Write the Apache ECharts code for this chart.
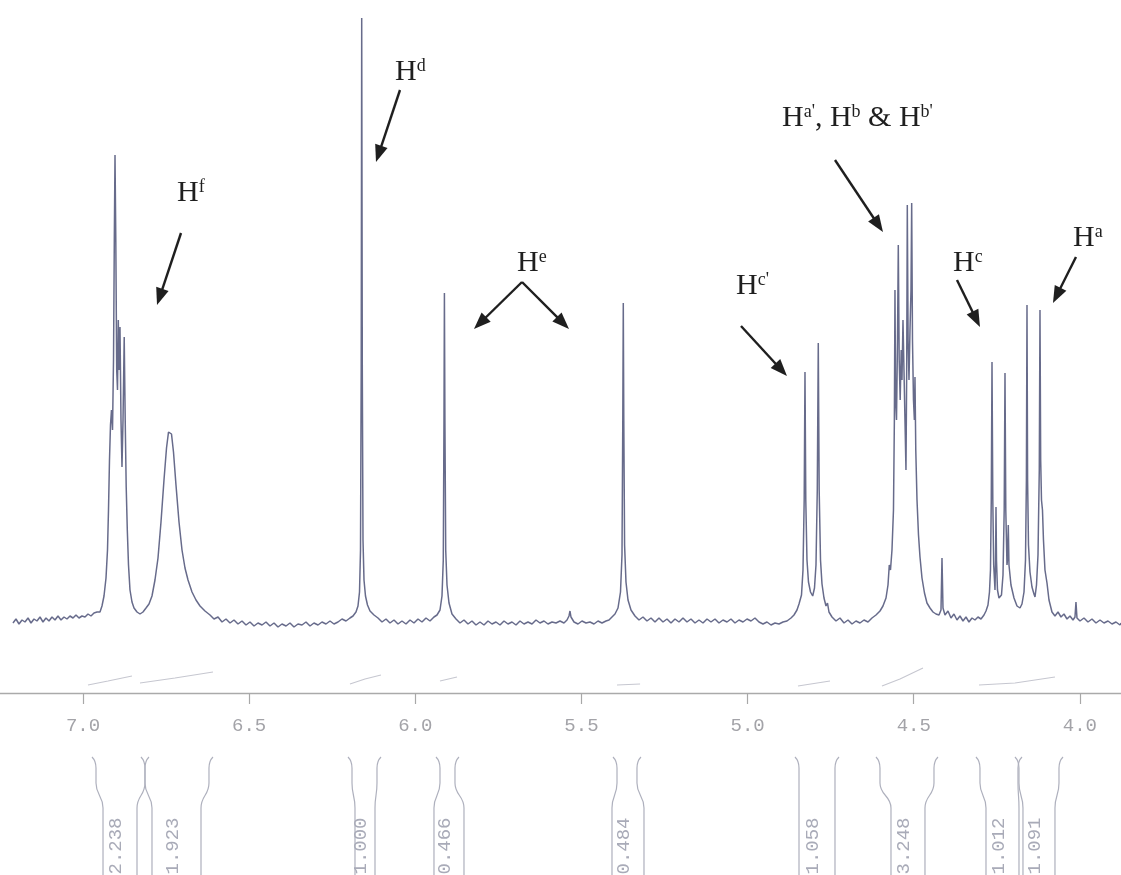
<!DOCTYPE html>
<html>
<head>
<meta charset="utf-8">
<title>1H NMR spectrum, 7.2 - 3.9 ppm</title>
<script src="https://cdn.jsdelivr.net/npm/echarts@6/dist/echarts.min.js"></script>
<style>
  html, body { margin: 0; padding: 0; background: #ffffff; }
  #chart { width: 1121px; height: 875px; }
</style>
</head>
<body>
<div id="chart"></div>
<script>
// Chemical-shift axis (ppm), labelled every 0.5 ppm
const tickValues = [4.0, 4.5, 5.0, 5.5, 6.0, 6.5, 7.0];

// Spectrum trace: [shift (ppm), intensity (arb. units, baseline = 0)]
const spectrum = [
  [7.2107,-3],[7.2017,1],[7.1926,-4],[7.1836,0],[7.1746,-2],[7.1655,2],[7.1565,-3],[7.1475,1],[7.1385,-1],[7.1294,3],
  [7.1204,-2],[7.1114,2],[7.1023,-1],[7.0933,3],[7.0843,0],[7.0753,4],[7.0662,0],[7.0572,3],[7.0482,1],[7.0392,4],
  [7.0301,2],[7.0211,5],[7.0121,2],[7.0030,4],[6.9940,3],[6.9850,6],[6.9760,4],[6.9669,7],[6.9579,8],[6.9489,8],
  // aromatic multiplet
  [6.9429,14],[6.9368,24],[6.9308,42],[6.9263,70],[6.9233,110],[6.9203,160],[6.9173,195],[6.9143,210],[6.9112,190],
  [6.9082,260],[6.9058,380],[6.9037,465],[6.9013,380],[6.8986,250],[6.8962,230],[6.8938,300],[6.8917,250],[6.8887,293],
  [6.8857,200],[6.8827,153],[6.8796,200],[6.8760,283],[6.8730,200],[6.8700,133],[6.8667,90],[6.8631,55],[6.8586,30],
  [6.8526,18],[6.8465,12],[6.8375,8],[6.8285,6],[6.8195,8],[6.8104,12],
  // broad signal
  [6.8014,16],[6.7924,24],[6.7834,40],[6.7743,62],[6.7653,98],[6.7563,140],[6.7487,172],[6.7427,188],[6.7382,190],
  [6.7337,186],[6.7277,168],[6.7202,135],[6.7111,98],[6.7021,70],[6.6931,52],[6.6840,40],[6.6720,28],[6.6600,20],
  [6.6479,14],[6.6329,9],[6.6178,5],
  [6.6058,1],[6.5937,3],[6.5817,-2],[6.5697,1],[6.5576,-3],[6.5456,0],[6.5336,-4],[6.5215,-1],[6.5095,-5],[6.4975,-2],
  [6.4854,-6],[6.4734,-3],[6.4613,-5],[6.4493,-2],[6.4373,-6],[6.4252,-3],[6.4132,-7],[6.4012,-4],[6.3891,-6],[6.3771,-3],
  [6.3651,-7],[6.3530,-4],[6.3410,-5],[6.3290,-2],[6.3169,-6],[6.3049,-3],[6.2928,-5],[6.2808,-2],[6.2688,-4],[6.2567,-1],
  [6.2447,-4],[6.2327,-2],[6.2206,1],[6.2086,-1],[6.1966,2],[6.1875,4],
  // Hd singlet
  [6.1785,8],[6.1725,14],[6.1679,28],[6.1649,70],[6.1628,250],[6.1613,602],[6.1595,250],[6.1574,80],[6.1544,40],
  [6.1499,24],[6.1439,15],[6.1363,9],[6.1243,5],[6.1123,2],
  [6.1002,-2],[6.0882,1],[6.0762,-3],[6.0641,0],[6.0521,-4],[6.0401,-1],[6.0280,-4],[6.0160,0],[6.0039,-3],[5.9919,1],
  [5.9799,-2],[5.9678,2],[5.9558,-1],[5.9438,3],[5.9347,5],
  // He, first line
  [5.9257,10],[5.9197,24],[5.9158,60],[5.9137,200],[5.9124,327],[5.9109,200],[5.9085,70],[5.9046,35],[5.8986,17],
  [5.8896,6],[5.8775,1],
  [5.8655,-3],[5.8535,0],[5.8414,-4],[5.8294,-1],[5.8174,-5],[5.8053,-2],[5.7933,-5],[5.7812,-1],[5.7692,-4],[5.7572,-2],
  [5.7451,-5],[5.7331,-1],[5.7211,-4],[5.7090,-2],[5.6970,-5],[5.6850,-1],[5.6729,-4],[5.6609,-2],[5.6488,-4],[5.6368,0],
  [5.6248,-3],[5.6127,-1],[5.6007,-4],[5.5887,-2],[5.5766,-3],[5.5646,-1],[5.5526,-3],[5.5435,0],[5.5375,4],[5.5345,9],
  [5.5315,3],[5.5224,-2],[5.5104,-4],[5.4984,-1],[5.4863,-3],[5.4743,-2],[5.4623,-4],[5.4502,-1],[5.4382,-3],[5.4261,-1],
  [5.4171,0],[5.4081,3],[5.3991,6],
  // He, second line
  [5.3900,12],[5.3825,28],[5.3780,65],[5.3756,200],[5.3741,317],[5.3726,200],[5.3702,75],[5.3660,38],[5.3599,20],
  [5.3509,10],[5.3389,4],
  [5.3268,0],[5.3148,3],[5.3028,-1],[5.2907,2],[5.2787,-2],[5.2667,2],[5.2546,-2],[5.2426,1],[5.2305,-3],[5.2185,1],
  [5.2065,-2],[5.1944,2],[5.1824,-2],[5.1704,1],[5.1583,-3],[5.1463,0],[5.1342,-3],[5.1222,1],[5.1102,-2],[5.0981,1],
  [5.0861,-3],[5.0741,0],[5.0620,-2],[5.0500,1],[5.0380,-3],[5.0259,0],[5.0139,-2],[5.0018,1],[4.9898,-1],[4.9778,2],
  [4.9657,-2],[4.9537,-4],[4.9417,-2],[4.9296,-5],[4.9176,-3],[4.9056,-4],[4.8935,-2],[4.8815,-1],[4.8694,2],[4.8604,5],
  [4.8514,10],[4.8453,16],
  // Hc' doublet
  [4.8378,25],[4.8333,50],[4.8297,120],[4.8273,248],[4.8249,120],[4.8213,60],[4.8168,38],[4.8107,28],[4.8041,24],
  [4.7987,32],[4.7942,55],[4.7903,130],[4.7873,277],[4.7846,130],[4.7806,60],[4.7761,36],[4.7701,22],[4.7641,14],
  [4.7596,17],[4.7551,8],[4.7460,3],
  [4.7340,-1],[4.7220,2],[4.7099,-3],[4.6979,0],[4.6858,-4],[4.6738,-1],[4.6618,-3],[4.6497,0],[4.6377,-2],[4.6257,2],
  [4.6136,5],[4.6016,9],[4.5926,14],[4.5835,22],[4.5775,35],[4.5736,55],[4.5700,50],[4.5655,70],[4.5610,110],
  // Ha', Hb, Hb' multiplet
  [4.5583,200],[4.5565,330],[4.5546,220],[4.5519,200],[4.5489,280],[4.5465,375],[4.5438,260],[4.5408,220],[4.5378,270],
  [4.5354,240],[4.5324,300],[4.5294,250],[4.5264,200],[4.5234,150],[4.5212,250],[4.5194,415],[4.5170,280],[4.5143,240],
  [4.5113,290],[4.5083,330],[4.5062,417],[4.5038,280],[4.5008,220],[4.4981,200],[4.4963,243],[4.4939,170],[4.4902,120],
  [4.4857,85],[4.4812,63],[4.4752,42],[4.4677,27],[4.4602,17],[4.4511,12],[4.4421,8],[4.4331,6],[4.4240,5],[4.4180,10],
  [4.4150,62],[4.4120,12],[4.4060,5],
  [4.3970,9],[4.3879,2],[4.3789,6],[4.3699,0],[4.3608,4],[4.3518,-1],[4.3428,3],[4.3338,-2],[4.3247,2],[4.3157,0],
  [4.3067,3],[4.2976,1],[4.2886,5],[4.2826,9],[4.2766,15],[4.2721,28],[4.2691,50],
  // Hc doublet
  [4.2667,120],[4.2645,258],[4.2621,120],[4.2594,55],[4.2555,30],[4.2537,60],[4.2525,113],[4.2510,60],[4.2480,30],
  [4.2435,22],[4.2405,20],[4.2360,25],[4.2314,45],[4.2278,110],[4.2254,247],[4.2230,110],[4.2194,55],[4.2179,60],
  [4.2155,95],[4.2134,55],[4.2074,35],[4.1983,22],[4.1893,14],[4.1803,12],[4.1743,16],[4.1682,28],
  // Ha doublet
  [4.1637,60],[4.1610,140],[4.1592,315],[4.1574,140],[4.1547,75],[4.1502,48],[4.1442,33],[4.1382,26],[4.1351,23],
  [4.1306,35],[4.1261,65],[4.1222,150],[4.1201,310],[4.1180,160],[4.1156,120],[4.1126,110],[4.1096,80],[4.1051,50],
  [4.0990,37],[4.0930,20],[4.0840,8],[4.0750,4],
  [4.0659,8],[4.0569,3],[4.0479,6],[4.0388,1],[4.0298,4],[4.0208,0],[4.0148,3],[4.0118,18],[4.0088,2],[3.9997,-1],
  [3.9877,2],[3.9757,-2],[3.9636,1],[3.9516,-3],[3.9395,0],[3.9275,-3],[3.9155,-1],[3.9034,-4],[3.8914,-2],[3.8794,-5],
  [3.8763,-3]
];

// Integrals: printed values and the shift ranges of their brackets
const integralValues = [2.238, 1.923, 1.000, 0.466, 0.484, 1.058, 3.248, 1.012, 1.091];
// [top-left, top-right, stem-left, stem-right] in ppm
const integralRegions = [
  [6.9609, 6.8135, 6.9398, 6.8375],
  [6.8135, 6.6209, 6.7924, 6.6449],
  [6.1905, 6.1153, 6.1815, 6.1213],
  [5.9257, 5.8806, 5.9438, 5.8535],
  [5.3930, 5.3329, 5.4081, 5.3118],
  [4.8453, 4.7370, 4.8453, 4.7370],
  [4.6016, 4.4391, 4.5685, 4.4662],
  [4.3007, 4.1863, 4.2826, 4.1833],
  [4.1833, 4.0629, 4.1713, 4.0750]
];
// Running-integral steps drawn just above the shift axis: [ppm, level]
const integralTraces = [
  [[6.9850,-65],[6.9248,-61],[6.8526,-56]],
  [[6.8285,-63],[6.7232,-58],[6.6088,-52]],
  [[6.1966,-64],[6.1514,-59],[6.1033,-55]],
  [[5.9257,-61],[5.8745,-57]],
  [[5.3930,-65],[5.3236,-64]],
  [[4.8484,-66],[4.7520,-61]],
  [[4.5956,-66],[4.5414,-59],[4.4722,-48]],
  [[4.3037,-65],[4.1954,-63],[4.0750,-57]]
];

// Proton assignments: label text, label anchor [ppm, level] (left edge, text middle)
const annotationLabels = [
  '{b|H}{s|f}',
  '{b|H}{s|d}',
  '{b|H}{s|e}',
  "{b|H}{s|c'}",
  "{b|H}{s|a'}{b|, H}{s|b}{b| & H}{s|b'}",
  '{b|H}{s|c}',
  '{b|H}{s|a}'
];
const annotationAnchors = [
  [6.7172, 427],
  [6.0611, 548],
  [5.6940, 357],
  [5.0349, 334],
  [4.8965, 502],
  [4.3819, 357],
  [4.0208, 382]
];
// Pointer arrows: [from ppm, from level, to ppm, to level]
const arrows = [
  [6.7051, 387, 6.7773, 315],
  [6.0461, 530, 6.1183, 458],
  [5.6789, 338, 5.8234, 291],
  [5.6789, 338, 5.5375, 291],
  [5.0199, 294, 4.8815, 244],
  [4.7370, 460, 4.5926, 388],
  [4.3699, 340, 4.3007, 293],
  [4.0118, 363, 4.0810, 317]
];

const PPM_MIN = 3.8763, PPM_MAX = 7.2498;
const MONO = "'Liberation Mono', 'DejaVu Sans Mono', monospace";
const SERIF = "'Liberation Serif', 'DejaVu Serif', serif";
const INK = '#1f1f1f';

const chart = echarts.init(document.getElementById('chart'), null, { renderer: 'canvas' });

function bracketItem(params, api) {
  const tl = api.value(0), tr = api.value(1), nl = api.value(2), nr = api.value(3);
  const val = api.value(4);
  const P = (x, y) => api.coord([x, y]);
  const yTop = 6, yB0 = 28, yB1 = 53, yBot = 130;
  function side(xt, xn, out) {
    const a = P(xt, yTop), b = P(xt, yB0), c = P(xn, yB1), d = P(xn, yBot);
    const m = (b[1] + c[1]) / 2;
    return 'M' + (a[0] + out * 4) + ' ' + (a[1] - 4) +
      ' Q' + a[0] + ' ' + a[1] + ' ' + a[0] + ' ' + (a[1] + 7) +
      ' L' + b[0] + ' ' + b[1] +
      ' C' + b[0] + ' ' + m + ' ' + c[0] + ' ' + m + ' ' + c[0] + ' ' + c[1] +
      ' L' + d[0] + ' ' + d[1];
  }
  const lineStyle = { stroke: '#aeb0bd', lineWidth: 1.2, fill: null };
  const cx = (P(nl, 0)[0] + P(nr, 0)[0]) / 2 - 4;
  const cy = P(nl, 91)[1];
  return {
    type: 'group',
    children: [
      { type: 'path', shape: { pathData: side(tl, nl, -1) }, style: lineStyle },
      { type: 'path', shape: { pathData: side(tr, nr, 1) }, style: lineStyle },
      {
        type: 'text', x: cx, y: cy, rotation: Math.PI / 2,
        style: {
          text: val.toFixed(3), fill: '#a9abb8',
          font: '19px ' + MONO, align: 'center', verticalAlign: 'middle'
        }
      }
    ]
  };
}

function arrowItem(params, api) {
  const p1 = api.coord([api.value(0), api.value(1)]);
  const p2 = api.coord([api.value(2), api.value(3)]);
  const dx = p2[0] - p1[0], dy = p2[1] - p1[1];
  const len = Math.sqrt(dx * dx + dy * dy);
  const ux = dx / len, uy = dy / len;
  const headL = 17, headW = 6.5;
  const bx = p2[0] - ux * headL, by = p2[1] - uy * headL;
  return {
    type: 'group',
    children: [
      { type: 'line', shape: { x1: p1[0], y1: p1[1], x2: bx + ux * 2, y2: by + uy * 2 },
        style: { stroke: INK, lineWidth: 2.4 } },
      { type: 'polygon',
        shape: { points: [[p2[0], p2[1]], [bx - uy * headW, by + ux * headW], [bx + uy * headW, by - ux * headW]] },
        style: { fill: INK } }
    ]
  };
}

function labelItem(params, api) {
  const p = api.coord([api.value(0), api.value(1)]);
  return {
    type: 'text', x: p[0], y: p[1],
    style: {
      text: annotationLabels[params.dataIndex],
      align: 'left', verticalAlign: 'middle',
      rich: {
        b: { fontFamily: SERIF, fontSize: 30, lineHeight: 30, fill: INK },
        s: { fontFamily: SERIF, fontSize: 18, lineHeight: 18, verticalAlign: 'top', fill: INK }
      }
    }
  };
}

const traceSeries = integralTraces.map(tr => ({
  type: 'line', xAxisIndex: 0, yAxisIndex: 0, data: tr,
  showSymbol: false, silent: true, animation: false,
  lineStyle: { color: '#c6c7d0', width: 1.1 }
}));

chart.setOption({
  animation: false,
  backgroundColor: '#ffffff',
  grid: [
    { left: 0, right: 0, top: 0, bottom: 182 },
    { left: 0, right: 0, top: 755, bottom: 0 }
  ],
  xAxis: [
    {
      type: 'value', gridIndex: 0, min: PPM_MIN, max: PPM_MAX, inverse: true,
      axisLine: { show: true, onZero: false, lineStyle: { color: '#aaaaaa', width: 1.4 } },
      axisTick: { show: true, customValues: tickValues, length: 11, lineStyle: { color: '#a8a8a8', width: 1.2 } },
      axisLabel: {
        show: true, customValues: tickValues, margin: 23,
        formatter: v => Number(v).toFixed(1),
        fontFamily: MONO, fontSize: 19, color: '#a3a3a8'
      },
      splitLine: { show: false }
    },
    {
      type: 'value', gridIndex: 1, min: PPM_MIN, max: PPM_MAX, inverse: true, show: false
    }
  ],
  yAxis: [
    { type: 'value', gridIndex: 0, min: -73, max: 620, show: false, splitLine: { show: false } },
    { type: 'value', gridIndex: 1, min: 0, max: 120, inverse: true, show: false, splitLine: { show: false } }
  ],
  series: [
    {
      name: 'spectrum', type: 'line', xAxisIndex: 0, yAxisIndex: 0,
      data: spectrum, showSymbol: false, symbol: 'none', sampling: null,
      lineStyle: { color: '#676b8b', width: 1.5 }, z: 3
    },
    ...traceSeries,
    {
      type: 'custom', xAxisIndex: 1, yAxisIndex: 1, silent: true,
      data: integralRegions.map((r, i) => r.concat([integralValues[i]])),
      renderItem: bracketItem
    },
    {
      type: 'custom', xAxisIndex: 0, yAxisIndex: 0, silent: true, z: 5,
      data: arrows, renderItem: arrowItem
    },
    {
      type: 'custom', xAxisIndex: 0, yAxisIndex: 0, silent: true, z: 5,
      data: annotationAnchors, renderItem: labelItem
    }
  ]
});
</script>
</body>
</html>
